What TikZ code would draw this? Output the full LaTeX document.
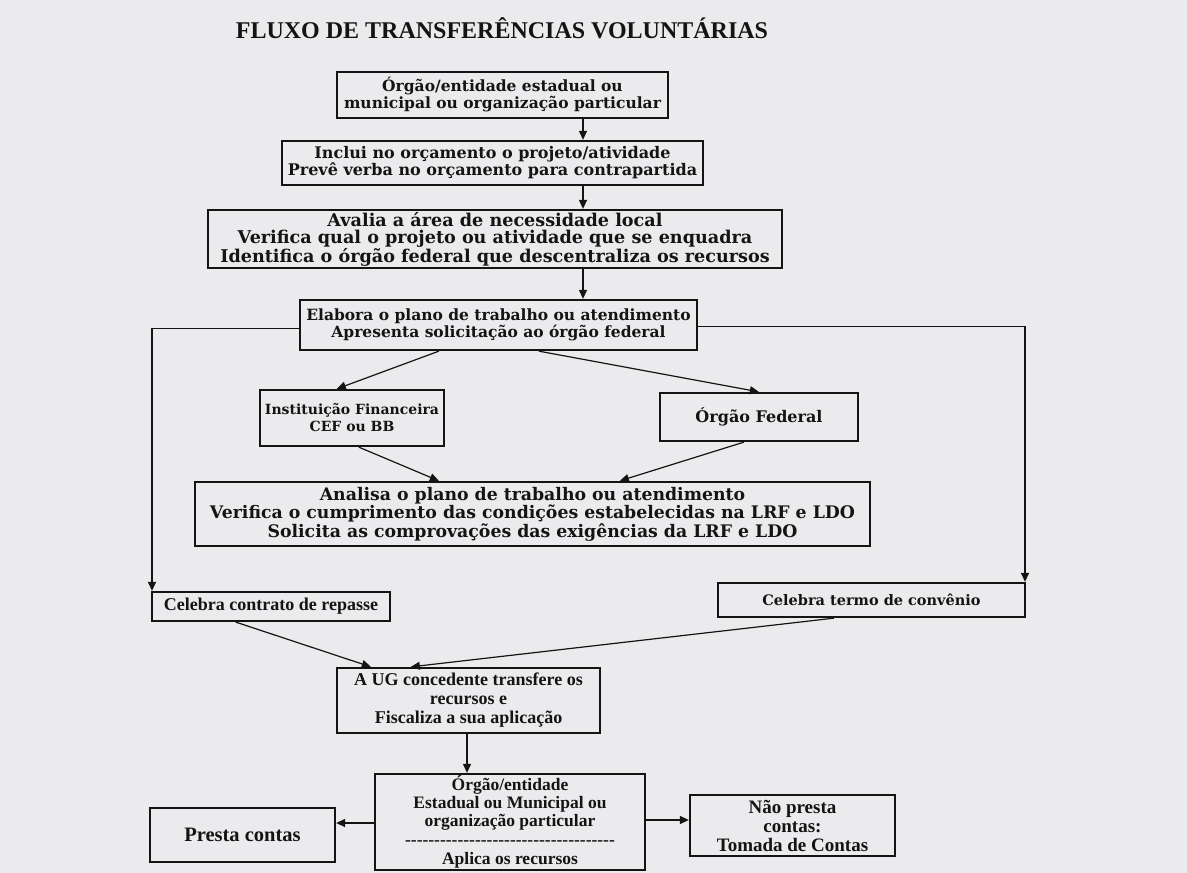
\documentclass[tikz,border=0pt]{standalone}
\usepackage{fontspec}
\setmainfont{Liberation Serif}
\newfontfamily\schfont{DejaVu Serif}
\usetikzlibrary{arrows.meta,calc}
\definecolor{paper}{RGB}{235,235,237}
\definecolor{ink}{RGB}{20,20,20}
\tikzset{
  box/.style={draw=ink, line width=2.3pt, inner sep=0pt, align=center, text=ink},
  sch/.style={font=\schfont\bfseries\fontsize{#1}{17}\selectfont},
  tms/.style={font=\bfseries\fontsize{#1}{19}\selectfont},
  arr/.style={draw=ink, line width=1.2pt, -{Triangle[length=9pt,width=8pt]}},
}
\newcommand{\dashrow}{-{}-{}-{}-{}-{}-{}-{}-{}-{}-{}-{}-{}-{}-{}-{}-{}-{}-{}-{}-{}-{}-{}-{}-{}-{}-{}-{}-{}-{}-{}-{}-{}-{}-{}-{}-}
\begin{document}
\begin{tikzpicture}[x=1pt,y=1pt]
\fill[paper] (0,0) rectangle (1187,-873);
\useasboundingbox (0,0) rectangle (1187,-873);

\node[font=\bfseries\fontsize{24}{26}\selectfont, text=ink] (title) at (502,-28) {FLUXO DE TRANSFERÊNCIAS VOLUNTÁRIAS};

\node[box,sch=15.5,minimum width=331,minimum height=46] (b1) at (502.5,-95) {Órgão/entidade estadual ou\\municipal ou organização particular};
\node[box,sch=16,minimum width=421,minimum height=44] (b2) at (492.5,-163) {Inclui no orçamento o projeto/atividade\\Prevê verba no orçamento para contrapartida};
\node[box,sch=17.6,minimum width=574,minimum height=58] (b3) at (495,-239) {Avalia a área de necessidade local\\Verifica qual o projeto ou atividade que se enquadra\\Identifica o órgão federal que descentraliza os recursos};
\node[box,sch=15.5,minimum width=397,minimum height=50] (b4) at (498.5,-325) {Elabora o plano de trabalho ou atendimento\\Apresenta solicitação ao órgão federal};
\node[box,sch=14,minimum width=184,minimum height=56] (inst) at (352,-418) {Instituição Financeira\\CEF ou BB};
\node[box,sch=16,minimum width=198,minimum height=48] (of) at (759,-417) {Órgão Federal};
\node[box,sch=17.3,minimum width=675,minimum height=64] (an) at (532.5,-514) {Analisa o plano de trabalho ou atendimento\\Verifica o cumprimento das condições estabelecidas na LRF e LDO\\Solicita as comprovações das exigências da LRF e LDO};
\node[box,tms=18,minimum width=238,minimum height=29] (cc) at (271,-606.5) {Celebra contrato de repasse};
\node[box,sch=14.5,minimum width=307,minimum height=34] (ct) at (871.5,-600) {Celebra termo de convênio};
\node[box,tms=18,minimum width=263,minimum height=65] (ug) at (468.5,-700.5) {A UG concedente transfere os\\recursos e\\Fiscaliza a sua aplicação};
\node[box,font=\bfseries\fontsize{17.5}{18}\selectfont,minimum width=270,minimum height=96] (o2) at (510,-822) {Órgão/entidade\\Estadual ou Municipal ou\\organização particular\\[1pt]\dashrow\\[1pt]Aplica os recursos};
\node[box,tms=20.5,minimum width=185,minimum height=54] (pc) at (242.5,-835) {Presta contas};
\node[box,tms=19,minimum width=205,minimum height=61] (np) at (792.5,-825.5) {Não presta\\contas:\\Tomada de Contas};

\coordinate (ax) at (583,0);
\coordinate (lx) at (152,0);
\coordinate (rx) at (1025,0);
\coordinate (dx) at (467,0);
\coordinate (ly) at (0,-823);
\coordinate (ry) at (0,-820);

\draw[arr] (b1.south -| ax) -- (b2.north -| ax);
\draw[arr] (b2.south -| ax) -- (b3.north -| ax);
\draw[arr] (b3.south -| ax) -- (b4.north -| ax);

\draw[arr] ($(b4.south west)+(140,0)$) -- ($(inst.north west)+(78,0)$);
\draw[arr] ($(b4.south west)+(240,0)$) -- ($(of.north west)+(100,0)$);
\draw[arr] ($(inst.south west)+(100,0)$) -- ($(an.north west)+(245,0)$);
\draw[arr] ($(of.south west)+(85,0)$) -- ($(an.north west)+(426,0)$);

\draw[arr] ($(b4.north west)+(0,-30)$) -| (lx |- cc.north);
\draw[arr] ($(b4.north east)+(0,-28)$) -| (rx |- ct.north);

\draw[arr] ($(cc.south west)+(85,0)$) -- ($(ug.north west)+(35,0)$);
\draw[arr] ($(ct.south west)+(117,0)$) -- ($(ug.north west)+(75,0)$);

\draw[arr] (ug.south -| dx) -- (o2.north -| dx);
\draw[arr] (o2.west |- ly) -- (pc.east |- ly);
\draw[arr] (o2.east |- ry) -- (np.west |- ry);
\end{tikzpicture}
\end{document}
